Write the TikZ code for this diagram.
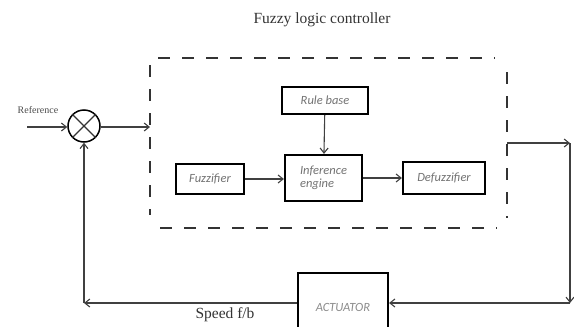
\documentclass[tikz,border=0pt]{standalone}
\usepackage{fontspec}
\setmainfont{Liberation Serif}
\newfontfamily\boxfont{Carlito}
\usetikzlibrary{arrows.meta}
\begin{document}
\begin{tikzpicture}[x=1pt,y=-1pt,
  blk/.style={draw=black, line width=2.2pt, inner sep=0pt,
    font=\boxfont\itshape\fontsize{12.5}{13}\selectfont, text=black!55},
  conn/.style={draw=black!75, line width=1.1pt,
    -{Straight Barb[length=5pt,width=8pt,line width=1.1pt]}},
  plain/.style={draw=black!75, line width=1.1pt},
  dsh/.style={draw=black!80, line width=2pt, dash pattern=on 12pt off 12pt},
  lbl/.style={font=\fontsize{15.5}{17}\selectfont, text=black!80}]
\clip (0,0) rectangle (574,327);
\fill[white] (0,0) rectangle (574,327);

% title and labels
\node[lbl] (title) at (322,20) {Fuzzy logic controller};
\node[font=\fontsize{10}{11}\selectfont, text=black!70] (ref) at (38,110) {Reference};
\node[lbl] (speed) at (225,315) {Speed f/b};

% summing junction
\node[draw=black, line width=1.5pt, circle, minimum size=32pt, inner sep=0pt] (sum) at (84,126) {};
\draw[line width=1.1pt, black!80] (sum.45) -- (sum.225) (sum.135) -- (sum.315);

% dashed controller boundary
\draw[dsh] (158,58) -- (495,58);
\draw[dsh] (160,228) -- (497,228);
\draw[dsh] (150,65) -- (150,215);
\draw[dsh] (507,72) -- (507,218);

% blocks
\node[blk, minimum width=86pt, minimum height=27pt] (rule) at (325,100.5) {Rule base};
\node[blk, minimum width=77pt, minimum height=46pt, align=left] (inf) at (323.5,178) {Inference\\engine};
\node[blk, minimum width=68pt, minimum height=30pt] (fuzz) at (210,179) {Fuzzifier};
\node[blk, minimum width=82pt, minimum height=32pt] (defuzz) at (444,178) {Defuzzifier};
\node[blk, minimum width=90pt, minimum height=68pt, text=black!45] (act) at (343,307) {ACTUATOR};

% coordinates
\coordinate (in) at (27,127);
\coordinate (din) at (150,127);
\coordinate (dout) at (507,143);
\coordinate (c1) at (570,143);
\coordinate (c2) at (570,303);
\coordinate (c3) at (84,303);

% connectors
\draw[conn] (in) -- (in -| sum.west);
\draw[conn] (sum.east |- in) -- (din);
\draw[conn] (rule) -- (inf);
\draw[conn] (fuzz.east) -- (fuzz.east -| inf.west);
\draw[conn] (inf.east) -- (inf.east -| defuzz.west);
\draw[conn] (dout) -- (c1);
\draw[conn] (c1) -- (c2);
\draw[conn] (c2) -- (c2 -| act.east);
\draw[conn] (c2 -| act.west) -- (c3);
\draw[conn] (c3) -- (sum.south);
\end{tikzpicture}
\end{document}
